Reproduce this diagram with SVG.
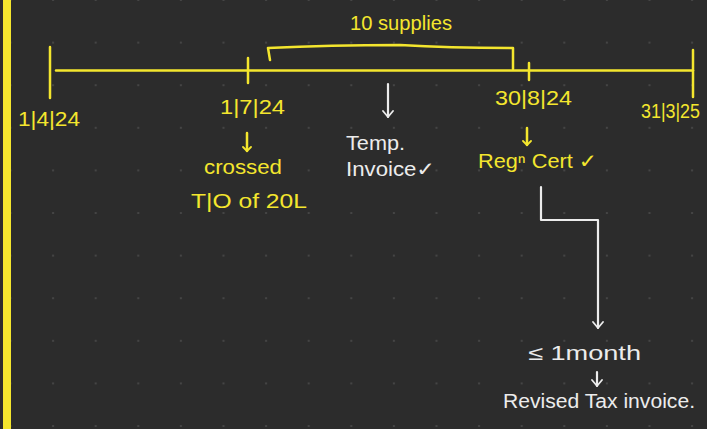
<svg xmlns="http://www.w3.org/2000/svg" width="707" height="429" viewBox="0 0 707 429">
<style>
.y{fill:#f4e62e}
.w{fill:#ececec}
text{font-family:"Liberation Sans","DejaVu Sans",sans-serif;font-size:20px}
.ys{stroke:#f4e62e;stroke-width:2.5;fill:none;stroke-linecap:round;stroke-linejoin:round}
.ws{stroke:#ececec;stroke-width:2.2;fill:none;stroke-linecap:round;stroke-linejoin:round}
</style>
<defs>
<pattern id="dots" x="10.5" y="0" width="42.6" height="42.6" patternUnits="userSpaceOnUse">
<circle cx="0" cy="0" r="1.1" fill="#4a4a4a"/>
<circle cx="42.6" cy="0" r="1.1" fill="#4a4a4a"/>
<circle cx="0" cy="42.6" r="1.1" fill="#4a4a4a"/>
<circle cx="42.6" cy="42.6" r="1.1" fill="#4a4a4a"/>
</pattern>
<marker id="ay" viewBox="0 0 10 10" refX="9" refY="5" markerWidth="10" markerHeight="10" markerUnits="userSpaceOnUse" orient="auto">
<path d="M5,1 L9,5 L5,9" fill="none" stroke="#f4e62e" stroke-width="1.8" stroke-linecap="round" stroke-linejoin="round"/>
</marker>
<marker id="aw" viewBox="0 0 12 12" refX="11" refY="6" markerWidth="12" markerHeight="12" markerUnits="userSpaceOnUse" orient="auto">
<path d="M5,1 L11,6 L5,11" fill="none" stroke="#ececec" stroke-width="1.8" stroke-linecap="round" stroke-linejoin="round"/>
</marker>
</defs>
<rect width="707" height="429" fill="#2c2c2c"/>
<rect width="707" height="429" fill="url(#dots)"/>
<rect x="3" y="0" width="8" height="429" fill="#f4e62e"/>

<g id="timeline">
<path class="ys" d="M56,70.5 L693,70.5"/>
<path class="ys" d="M50,47 L50,98"/>
<path class="ys" d="M248,58 L248,83"/>
<path class="ys" d="M529,63 L529,80"/>
<path class="ys" d="M693,50 L693,97"/>
</g>

<g id="supplies">
<path class="ys" d="M270,60 L268,48 Q330,45 400,45 Q450,48 513,48 L513,69"/>
<text class="y" x="350" y="30" font-size="16" textLength="102" lengthAdjust="spacingAndGlyphs">10 supplies</text>
</g>

<g id="start">
<text class="y" x="18" y="126" textLength="62" lengthAdjust="spacingAndGlyphs">1|4|24</text>
</g>

<g id="jul">
<text class="y" x="220" y="114" textLength="65" lengthAdjust="spacingAndGlyphs">1|7|24</text>
<text class="y" x="204" y="174" textLength="78" lengthAdjust="spacingAndGlyphs">crossed</text>
<text class="y" x="191" y="208" textLength="116" lengthAdjust="spacingAndGlyphs">T|O of 20L</text>
</g>

<g id="temp">
<text class="w" x="346" y="150" textLength="59" lengthAdjust="spacingAndGlyphs">Temp.</text>
<text class="w" x="346" y="176" textLength="89" lengthAdjust="spacingAndGlyphs">Invoice✓</text>
</g>

<g id="aug">
<text class="y" x="495" y="105" textLength="77" lengthAdjust="spacingAndGlyphs">30|8|24</text>
<text class="y" x="478" y="168" textLength="119" lengthAdjust="spacingAndGlyphs">Regⁿ Cert ✓</text>
</g>

<g id="end">
<text class="y" x="641" y="118" font-size="16" textLength="59" lengthAdjust="spacingAndGlyphs">31|3|25</text>
</g>

<g id="month">
<text class="w" x="528" y="360" textLength="113" lengthAdjust="spacingAndGlyphs">≤ 1month</text>
</g>

<g id="revised">
<text class="w" x="503" y="408" textLength="192" lengthAdjust="spacingAndGlyphs">Revised Tax invoice.</text>
</g>

<g id="connectors">
<path class="ys" d="M247,133 L247,151" marker-end="url(#ay)"/>
<path class="ws" d="M388,84 L388,117" marker-end="url(#aw)"/>
<path class="ys" d="M527,128 L527,145" marker-end="url(#ay)"/>
<path class="ws" d="M597,372 L597,386" marker-end="url(#aw)"/>
<path class="ws" d="M541,187 L541,220 L598,220 L598,328" marker-end="url(#aw)"/>
</g>
</svg>
